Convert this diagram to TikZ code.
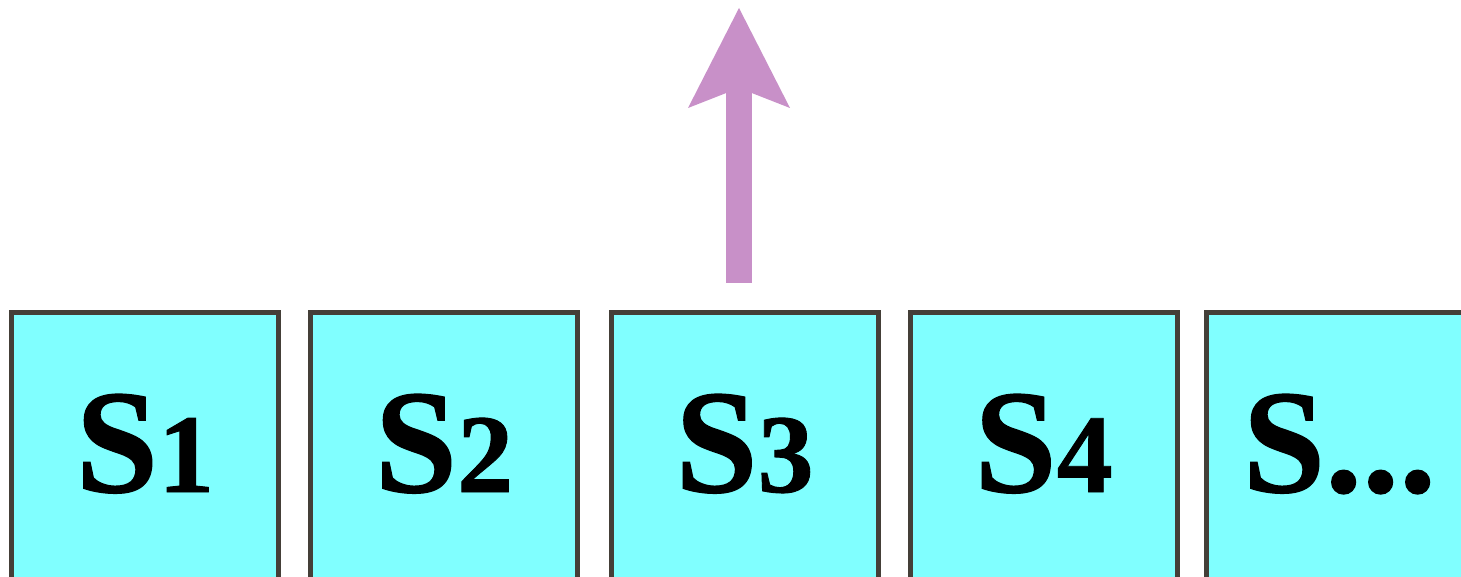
\documentclass[tikz,border=0pt]{standalone}
\usepackage{fontspec}
\setmainfont{Liberation Serif}[BoldFeatures={FakeBold=0.8}]
\usetikzlibrary{arrows.meta}
\definecolor{boxfill}{RGB}{128,255,255}
\definecolor{boxline}{RGB}{68,63,56}
\definecolor{arrowpink}{RGB}{200,144,200}
\newcommand{\snum}[1]{{\fontsize{56}{60}\selectfont\bfseries#1}}
\tikzset{
  slot/.style={draw=boxline, line width=2.5pt, fill=boxfill, minimum width=133.5pt, minimum height=133.5pt, inner sep=0pt, text height=46pt, text depth=0pt, font=\fontsize{74}{80}\selectfont\bfseries},
  outflow/.style={draw=arrowpink, line width=13pt, -{Stealth[length=50pt, width=51pt, inset=10pt, line width=0pt]}}
}
\begin{document}
\begin{tikzpicture}[x=0.5pt, y=-0.5pt]
				\path[use as bounding box, clip] (0,0) rectangle (1461,577);
				\node[slot] (s1) at (145,446) {S\snum{1}};
				\node[slot] (s2) at (444,446) {S\snum{2}};
				\node[slot] (s3) at (744.5,446) {S\snum{3}};
				\node[slot] (s4) at (1043.5,446) {S\snum{4}};
				\node[slot] (s5) at (1339.5,446) {S...};
				\coordinate (top) at (739,8);
				\draw[outflow] ([xshift=-2.75pt, yshift=13.5pt]s3.north) -- (top);
			\end{tikzpicture}
\end{document}
